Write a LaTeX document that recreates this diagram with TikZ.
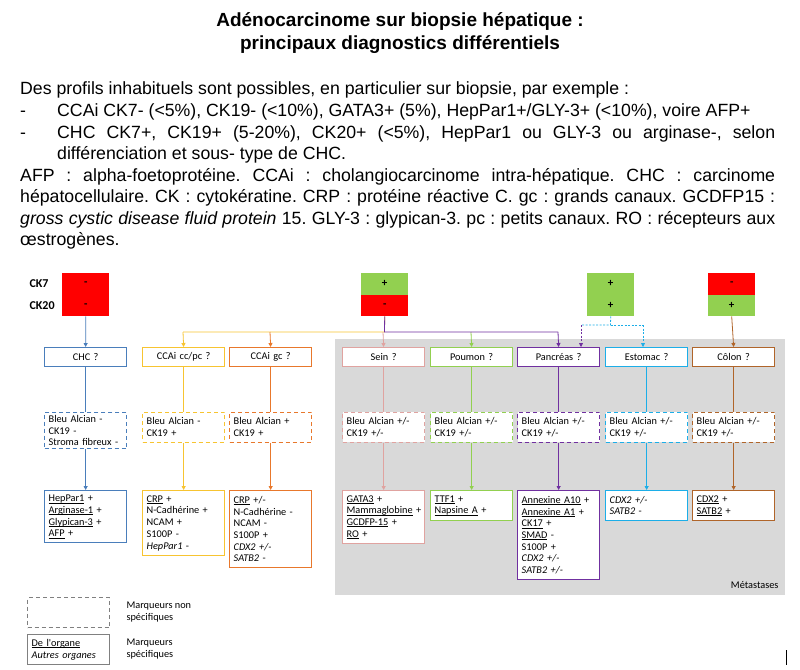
\documentclass[tikz,border=0pt]{standalone}
\usepackage{fontspec}
\setmainfont{Liberation Sans}
\newfontfamily\calfnt{Carlito}
\usetikzlibrary{arrows.meta}
\definecolor{cblue}{HTML}{4A7EBB}
\definecolor{cyel}{HTML}{F7C431}
\definecolor{cora}{HTML}{E8782C}
\definecolor{cpink}{HTML}{E0A3A0}
\definecolor{cgreen}{HTML}{92D050}
\definecolor{cpur}{HTML}{7030A0}
\definecolor{ccyan}{HTML}{1CAEE8}
\definecolor{cbrown}{HTML}{B0652A}
\definecolor{cred}{HTML}{FF0000}
\definecolor{cgray}{HTML}{D9D9D9}
\newsavebox\ulbox
\newcommand\ulx[1]{\mbox{\sbox\ulbox{#1}\rlap{\rule[-1.3pt]{\wd\ulbox}{0.5pt}}\usebox\ulbox}}
\frenchspacing
\begin{document}
\begin{tikzpicture}[x=1pt,y=-1pt,
  bx/.style={draw=#1,line width=1.3pt,fill=white,anchor=north west,minimum width=82pt,text width=74pt,inner xsep=4pt,inner ysep=3pt,align=left,font=\calfnt\fontsize{10.3}{11.7}\selectfont},
  hd/.style={bx=#1,minimum height=19pt,align=center},
  ds/.style={bx=#1,dashed,dash pattern=on 4pt off 3pt},
  ar/.style={draw=#1,line width=0.8pt,-{Triangle[length=4pt,width=4pt]}},
  ln/.style={draw=#1,line width=0.8pt},
  sq/.style={minimum width=47pt,minimum height=21.5pt,anchor=north west,inner sep=0pt,font=\calfnt\bfseries\fontsize{11}{11}\selectfont}]
\useasboundingbox (0,0) rectangle (800,669);
\fill[white] (0,0) rectangle (800,669);
% title
\node[font=\bfseries\fontsize{19}{23}\selectfont,align=center] (title) at (400,33) {Adénocarcinome sur biopsie hépatique :\\principaux diagnostics différentiels};
% paragraph
\begin{scope}[every node/.style={anchor=base west,inner sep=0pt,font=\fontsize{17.7}{20}\selectfont}]
\node (p1) at (20,94) {Des profils inhabituels sont possibles, en particulier sur biopsie, par exemple :};
\node (p2a) at (20,116) {-};
\node (p2) at (57,116) {CCAi CK7- (<5\%), CK19- (<10\%), GATA3+ (5\%), HepPar1+/GLY-3+ (<10\%), voire AFP+};
\node (p3a) at (20,138) {-};
\node (p3) at (57,138) {\makebox[718pt][s]{CHC CK7+, CK19+ (5-20\%), CK20+ (<5\%), HepPar1 ou GLY-3 ou arginase-, selon}};
\node (p4) at (57,159) {différenciation et sous- type de CHC.};
\node (p5) at (20,181) {\makebox[755pt][s]{AFP : alpha-foetoprotéine. CCAi : cholangiocarcinome intra-hépatique. CHC : carcinome}};
\node (p6) at (20,202) {\makebox[755pt][s]{hépatocellulaire. CK : cytokératine. CRP : protéine réactive C. gc : grands canaux. GCDFP15 :}};
\node (p7) at (20,224) {\makebox[755pt][s]{\textit{gross cystic disease fluid protein} 15. GLY-3 : glypican-3. pc : petits canaux. RO : récepteurs aux}};
\node (p8) at (20,245) {œstrogènes.};
\end{scope}
% gray region
\fill[cgray] (335,339) rectangle (785,595);
\node[anchor=south east,font=\calfnt\fontsize{10.3}{11}\selectfont] (met) at (782,592) {Métastases};
% CK squares
\node[font=\calfnt\bfseries\fontsize{12}{12}\selectfont,anchor=west] (ck7) at (26,284) {CK7};
\node[font=\calfnt\bfseries\fontsize{12}{12}\selectfont,anchor=west] (ck20) at (26,306) {CK20};
\node[sq,fill=cred] (a1) at (62,273) {-};
\node[sq,fill=cred] (a2) at (62,294.5) {-};
\node[sq,fill=cgreen] (b1) at (361,273) {+};
\node[sq,fill=cred] (b2) at (361,294.5) {-};
\node[sq,fill=cgreen] (c1) at (587,273) {+};
\node[sq,fill=cgreen] (c2) at (587,294.5) {+};
\node[sq,fill=cred] (d1) at (708,273) {-};
\node[sq,fill=cgreen] (d2) at (708,294.5) {+};
% row 1
\node[hd=cblue] (h1) at (44,347) {CHC ?};
\node[hd=cyel] (h2) at (142,347) {CCAi cc/pc ?};
\node[hd=cora] (h3) at (229,347) {CCAi gc ?};
\node[hd=cpink] (h4) at (342,347) {Sein ?};
\node[hd=cgreen] (h5) at (430,347) {Poumon ?};
\node[hd=cpur] (h6) at (517,347) {Pancréas ?};
\node[hd=ccyan] (h7) at (605,347) {Estomac ?};
\node[hd=cbrown] (h8) at (692,347) {Côlon ?};
% row 2
\node[ds=cblue,minimum height=32pt] (m1) at (44,411.5) {Bleu Alcian -\\CK19 -\\Stroma fibreux -};
\node[ds=cyel,minimum height=30pt] (m2) at (142,411.5) {Bleu Alcian -\\CK19 +};
\node[ds=cora,minimum height=30pt] (m3) at (229,411.5) {Bleu Alcian +\\CK19 +};
\node[ds=cpink,minimum height=30pt] (m4) at (342,411.5) {Bleu Alcian +/-\\CK19 +/-};
\node[ds=cgreen,minimum height=30pt] (m5) at (430,411.5) {Bleu Alcian +/-\\CK19 +/-};
\node[ds=cpur,minimum height=30pt] (m6) at (517,411.5) {Bleu Alcian +/-\\CK19 +/-};
\node[ds=ccyan,minimum height=30pt] (m7) at (605,411.5) {Bleu Alcian +/-\\CK19 +/-};
\node[ds=cbrown,minimum height=30pt] (m8) at (692,411.5) {Bleu Alcian +/-\\CK19 +/-};
% row 3
\node[bx=cblue,minimum height=52pt] (s1) at (44,490) {\ulx{HepPar1} +\\\ulx{Arginase-1} +\\\ulx{Glypican-3} +\\\ulx{AFP} +};
\node[bx=cyel,minimum height=65pt] (s2) at (142,490) {\ulx{CRP} +\\N-Cadhérine +\\NCAM +\\S100P -\\\textit{HepPar1} -};
\node[bx=cora,minimum height=77pt] (s3) at (229,490) {\ulx{CRP} +/-\\N-Cadhérine -\\NCAM -\\S100P +\\\textit{CDX2 +/-}\\\textit{SATB2} -};
\node[bx=cpink,minimum height=53pt] (s4) at (342,490) {\ulx{GATA3} +\\\mbox{\ulx{Mammaglobine} +}\\\ulx{GCDFP-15} +\\\ulx{RO} +};
\node[bx=cgreen,minimum height=30pt] (s5) at (430,490) {\ulx{TTF1} +\\\ulx{Napsine A} +};
\node[bx=cpur,minimum height=89pt] (s6) at (517,490) {\ulx{Annexine A10} +\\\ulx{Annexine A1} +\\\ulx{CK17} +\\\ulx{SMAD} -\\S100P +\\\textit{CDX2 +/-}\\\textit{SATB2 +/-}};
\node[bx=ccyan,minimum height=30pt] (s7) at (605,490) {\textit{CDX2 +/-}\\\textit{SATB2} -};
\node[bx=cbrown,minimum height=30pt] (s8) at (692,490) {\ulx{CDX2} +\\\ulx{SATB2} +};
% connectors from squares
\draw[ar=cblue] (a2.south) -- (h1.north);
\coordinate (j) at (384.5,332);
\draw[ln=cyel] (b2.south) -- (j) -- (183,332);
\draw[ar=cyel] (183,332) -- (h2.north);
\draw[ar=cora] (270,332) -- (h3.north);
\draw[ar=cpink] (383,332) -- (h4.north);
\draw[ar=cgreen] (471,332) -- (h5.north);
\draw[ln=cpur] (b2.south) -- (j) -- (558,332);
\draw[ar=cpur] (558,332) -- (h6.north);
\draw[ln=ccyan,dashed,dash pattern=on 2pt off 1.5pt] (c2.south) -- (610.5,325) -- (581,325);
\draw[ln=ccyan,dashed,dash pattern=on 2pt off 1.5pt] (610.5,325) -- (643,325);
\draw[ar=cpur,dashed,dash pattern=on 2pt off 1.5pt] (581,325) -- (581,347);
\draw[ar=ccyan,dashed,dash pattern=on 2pt off 1.5pt] (643,325) -- (643,347);
\draw[ar=cbrown] (d2.south) -- (h8.north);
% vertical chains
\foreach \i/\c in {1/cblue,2/cyel,3/cora,4/cpink,5/cgreen,6/cpur,7/ccyan,8/cbrown}{
  \draw[ln=\c] (h\i.south) -- (m\i.north);
  \draw[ar=\c] (m\i.south) -- (s\i.north);
}
% legend
\node[ds=gray,minimum height=30pt,minimum width=82pt] (l1) at (27,597) {};
\node[bx=gray,minimum height=30pt] (l2) at (27,634) {\ulx{De l'organe}\\\textit{Autres organes}};
\node[anchor=west,align=left,font=\calfnt\fontsize{10.3}{11.7}\selectfont] (t1) at (123,612) {Marqueurs non\\spécifiques};
\node[anchor=west,align=left,font=\calfnt\fontsize{10.3}{11.7}\selectfont] (t2) at (123,649) {Marqueurs\\spécifiques};
\coordinate (cu1) at (786,650); \coordinate (cu2) at (786,665);
\draw[line width=0.8pt] (cu1) -- (cu2);
\end{tikzpicture}
\end{document}
